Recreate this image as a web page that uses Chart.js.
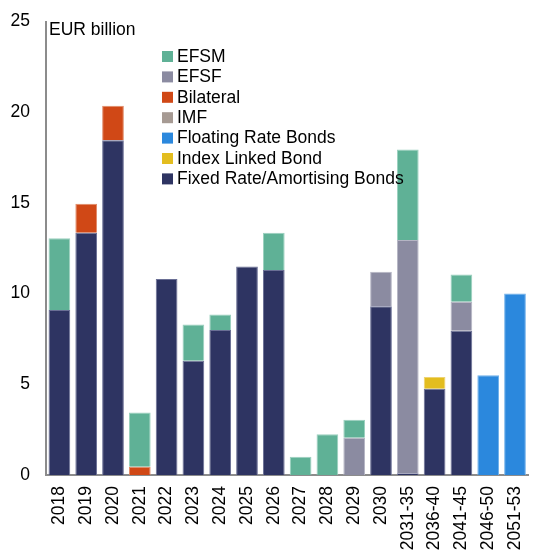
<!DOCTYPE html>
<html>
<head>
<meta charset="utf-8">
<script src="https://cdn.jsdelivr.net/npm/chart.js@4.4.1/dist/chart.umd.min.js"></script>
<style>
  html, body { margin: 0; padding: 0; background: #fff; overflow: hidden; }
  #wrap { width: 547px; height: 553px; overflow: hidden; }
  #debtChart { display: block; margin-top: -5px; }
</style>
</head>
<body>
<div id="wrap"><canvas id="debtChart" width="547" height="558"></canvas></div>
<script>
// Maturity buckets
const categories = ['2018', '2019', '2020', '2021', '2022', '2023', '2024', '2025', '2026', '2027',
    '2028', '2029', '2030', '2031-35', '2036-40', '2041-45', '2046-50', '2051-53'];

// Redemptions per instrument, EUR billion
const fixedRate = [9.1, 13.35, 18.45, null, 10.8, 6.3, 8.0, 11.5, 11.3, null, null, null, 9.3, 0.1, 4.75, 7.95, null, null];
const indexLinked = [null, null, null, null, null, null, null, null, null, null, null, null, null, null, 0.65, null, null, null];
const floatingRate = [null, null, null, null, null, null, null, null, null, null, null, null, null, null, null, null, 5.5, 10.0];
const imf = [null, null, null, null, null, null, null, null, null, null, null, null, null, null, null, null, null, null];
const bilateral = [null, 1.6, 1.9, 0.45, null, null, null, null, null, null, null, null, null, null, null, null, null, null];
const efsf = [null, null, null, null, null, null, null, null, null, null, null, 2.05, 1.9, 12.85, null, 1.6, null, null];
const efsm = [3.95, null, null, 3.0, null, 2.0, 0.85, null, 2.05, 1.0, 2.25, 1.0, null, 5.0, null, 1.5, null, null];

const yTicks = [0, 5, 10, 15, 20, 25];

const FONT = '"Liberation Sans", Arial, sans-serif';
const SHIFT = 5; // canvas is pulled up by this much

// stacked bottom to top
const series = [
    { label: 'Fixed Rate/Amortising Bonds', data: fixedRate, color: '#2e3462', edge: '#6a6f95' },
    { label: 'Index Linked Bond', data: indexLinked, color: '#e3bd1f', edge: '#eed372' },
    { label: 'Floating Rate Bonds', data: floatingRate, color: '#2b88dd', edge: '#6fb0ea' },
    { label: 'IMF', data: imf, color: '#a69a93', edge: '#c6bdb8' },
    { label: 'Bilateral', data: bilateral, color: '#d04816', edge: '#e08a68' },
    { label: 'EFSF', data: efsf, color: '#8b8ba1', edge: '#b5b5c4' },
    { label: 'EFSM', data: efsm, color: '#5fb196', edge: '#9ad0be' }
];

// legend inside the plot area + unit label
const insideLegend = {
    id: 'insideLegend',
    afterDraw(chart) {
        const ctx = chart.ctx;
        ctx.save();
        ctx.font = '17.5px ' + FONT;
        ctx.fillStyle = '#000';
        ctx.textBaseline = 'middle';
        ctx.textAlign = 'left';
        ctx.fillText('EUR billion', 49, 30 + SHIFT);
        const items = chart.data.datasets.slice().reverse();
        items.forEach((ds, i) => {
            const y = 56.5 + i * 20.4 + SHIFT;
            ctx.fillStyle = ds.backgroundColor;
            ctx.fillRect(162, y - 5.5, 11, 11);
            ctx.fillStyle = '#000';
            ctx.fillText(ds.label, 177, y + 0.5);
        });
        ctx.restore();
    }
};

const ctx = document.getElementById('debtChart').getContext('2d');
new Chart(ctx, {
    type: 'bar',
    data: {
        labels: categories,
        datasets: series.map(s => ({
            label: s.label,
            data: s.data,
            backgroundColor: s.color,
            borderColor: s.edge,
            borderWidth: 1,
            borderSkipped: 'bottom',
            barPercentage: 0.81,
            categoryPercentage: 1.0
        }))
    },
    options: {
        responsive: false,
        animation: false,
        layout: { padding: { top: 0, left: 0, right: 0, bottom: 0 } },
        plugins: {
            legend: { display: false },
            tooltip: { enabled: false }
        },
        scales: {
            x: {
                stacked: true,
                grid: { display: false, drawTicks: false },
                border: { display: true, color: '#8c8c8c', width: 2 },
                ticks: {
                    color: '#000',
                    font: { family: FONT, size: 17.5 },
                    minRotation: 90,
                    maxRotation: 90,
                    autoSkip: false,
                    padding: 11
                },
                afterFit(scale) { scale.height = 78; }
            },
            y: {
                stacked: true,
                min: 0,
                max: 25,
                grid: { display: false, drawTicks: false },
                border: { display: true, color: '#8c8c8c', width: 2 },
                afterBuildTicks(scale) { scale.ticks = yTicks.map(v => ({ value: v })); },
                ticks: {
                    color: '#000',
                    font: { family: FONT, size: 17.5 },
                    padding: 16
                },
                afterFit(scale) { scale.width = 46; }
            }
        }
    },
    plugins: [insideLegend]
});
</script>
</body>
</html>
